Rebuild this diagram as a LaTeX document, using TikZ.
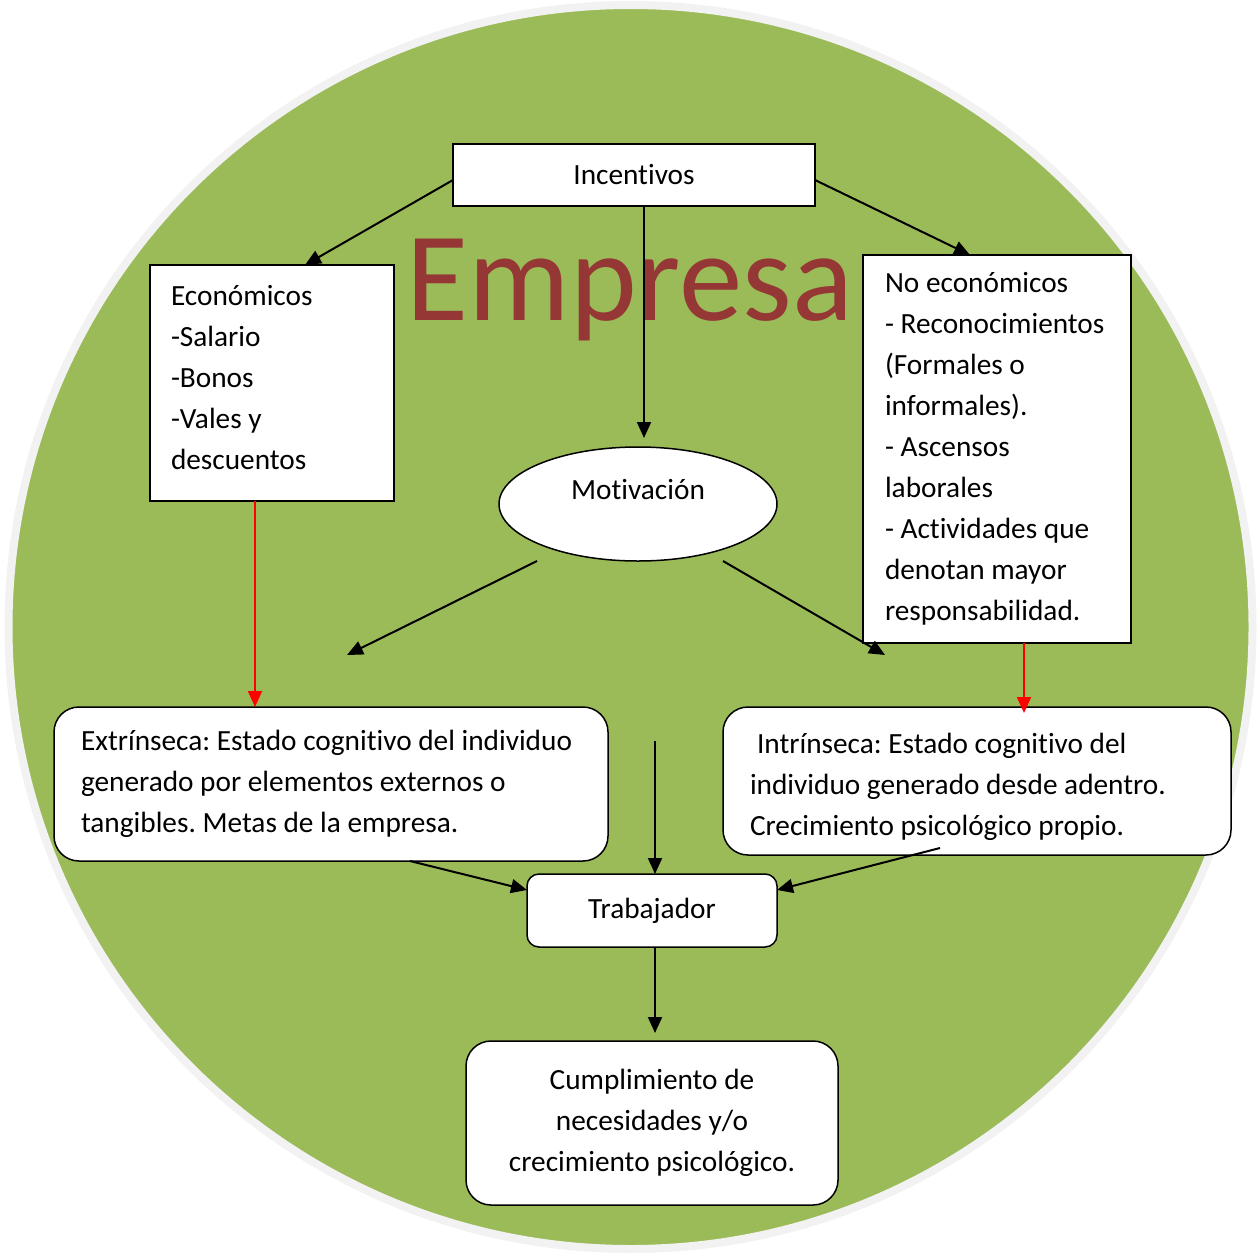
\documentclass[tikz,border=0pt]{standalone}
\usepackage{fontspec}
\setmainfont{Carlito}[Ligatures=CommonOff]
\usetikzlibrary{arrows.meta,shapes.geometric}
\definecolor{empgreen}{HTML}{9BBB59}
\definecolor{ringgrey}{HTML}{F2F2F2}
\definecolor{empred}{HTML}{953735}
\frenchspacing
\begin{document}
\begin{tikzpicture}[x=1pt,y=-1pt,
  txt/.style={font=\fontsize{29.3}{41}\selectfont},
  sqbox/.style={draw=black, line width=1.5pt, fill=white, txt},
  rbox/.style={sqbox, rounded corners=25pt},
  arr/.style={line width=2pt, -{Triangle[length=16pt,width=14pt]}},
  redarr/.style={arr, draw=red, fill=red}
]
\useasboundingbox (0,0) rectangle (1260,1255);
\draw[ringgrey, line width=8pt, fill=empgreen] (630.5,627) circle[radius=622];
\node[font=\fontsize{127}{127}\selectfont, text=empred, anchor=base, inner sep=0pt] (emp) at (630,320) {Empresa};

\node[sqbox, minimum width=362pt, minimum height=62pt, inner sep=0pt] (inc) at (634,175) {Incentivos};
\node[sqbox, minimum width=244pt, minimum height=236pt, text width=202pt, align=flush left, inner xsep=21pt, inner ysep=0pt] (eco) at (272,383)
  {Económicos\\-Salario\\-Bonos\\-Vales y\\descuentos\rule[-12pt]{0pt}{0pt}};
\node[sqbox, minimum width=268pt, minimum height=388pt, text width=224pt, align=flush left, inner xsep=22pt, inner ysep=0pt] (noeco) at (997,449)
  {No económicos\\- Reconocimientos\\(Formales o\\informales).\\- Ascensos\\laborales\\- Actividades que\\denotan mayor\\responsabilidad.};
\node[ellipse, draw=black, line width=1.5pt, fill=white, minimum width=278pt, minimum height=114pt, inner sep=0pt, txt, text depth=30pt] (mot) at (638,504) {Motivación};
\node[rbox, minimum width=554pt, minimum height=154pt, text width=500pt, align=flush left, inner xsep=27pt, inner ysep=0pt] (ext) at (331,784)
  {Extrínseca: Estado cognitivo del individuo\\generado por elementos externos o\\tangibles. Metas de la empresa.};
\node[rbox, minimum width=508pt, minimum height=148pt, text width=454pt, align=flush left, inner xsep=27pt, inner ysep=0pt] (int) at (977,781)
  {\rule{0pt}{33pt}\hspace*{7pt}Intrínseca: Estado cognitivo del\\individuo generado desde adentro.\\Crecimiento psicológico propio.};
\node[sqbox, rounded corners=12pt, minimum width=250pt, minimum height=73pt, inner sep=0pt] (trab) at (652,910.5) {Trabajador};
\node[rbox, minimum width=372pt, minimum height=164pt, text width=340pt, align=flush center, inner xsep=16pt, inner ysep=0pt] (cump) at (652,1123)
  {Cumplimiento de\\necesidades y/o\\crecimiento psicológico.};

\coordinate (incL) at (453,180);
\coordinate (ecoT) at (305,265);
\coordinate (incR) at (815,180);
\coordinate (noT) at (970,255);
\coordinate (incB) at (644,206);
\coordinate (motT) at (644,438);
\coordinate (motL) at (537,561);
\coordinate (extT) at (347,655);
\coordinate (motR) at (723,561);
\coordinate (intT) at (885,655);
\coordinate (ecoB) at (255,501);
\coordinate (extR) at (255,707);
\coordinate (noB) at (1024,643);
\coordinate (intR) at (1024,713);
\coordinate (midS) at (655,741);
\coordinate (trabT) at (655,874);
\coordinate (extB) at (410,861);
\coordinate (trabL) at (527,890);
\coordinate (intB) at (940,848);
\coordinate (trabR) at (777,890);
\coordinate (trabB) at (655,947);
\coordinate (cumpT) at (655,1033);

\draw[arr] (incL) -- (ecoT);
\draw[arr] (incR) -- (noT);
\draw[arr] (incB) -- (motT);
\draw[arr] (motL) -- (extT);
\draw[arr] (motR) -- (intT);
\draw[redarr] (ecoB) -- (extR);
\draw[redarr] (noB) -- (intR);
\draw[arr] (midS) -- (trabT);
\draw[arr] (extB) -- (trabL);
\draw[arr] (intB) -- (trabR);
\draw[arr] (trabB) -- (cumpT);
\end{tikzpicture}
\end{document}
